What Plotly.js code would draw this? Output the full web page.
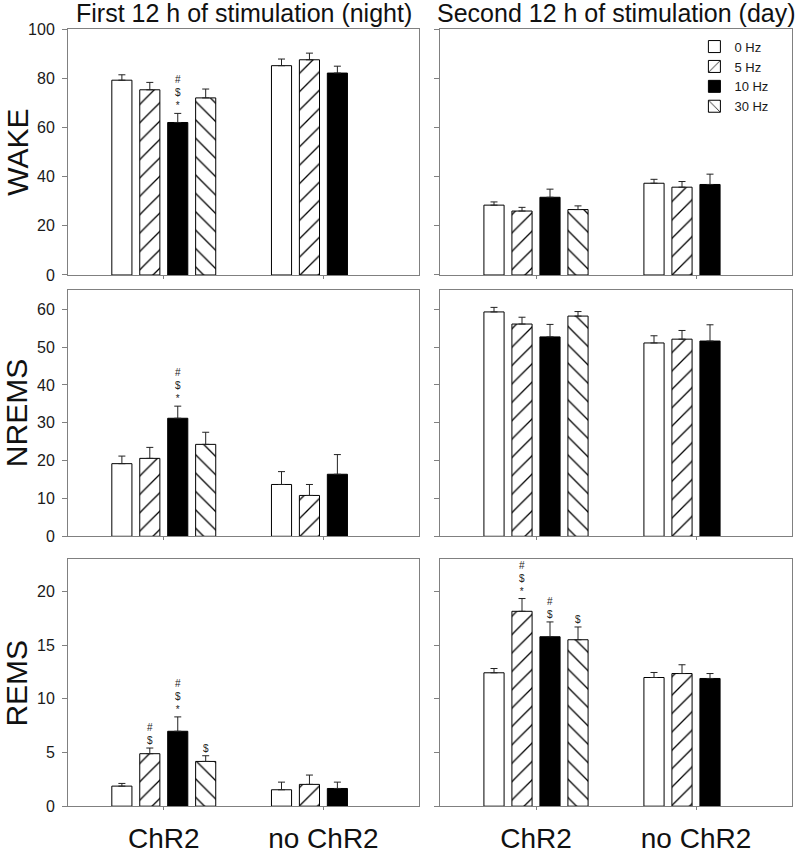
<!DOCTYPE html>
<html><head><meta charset="utf-8">
<script src="https://cdn.plot.ly/plotly-3.0.1.min.js"></script>
<style>html,body{margin:0;padding:0;background:#fff}#chart{width:800px;height:854px}</style>
</head><body><div id="chart"></div>
<script>
const categories = ['ChR2', 'no ChR2'];
const freqLabels = ['0 Hz', '5 Hz', '10 Hz', '30 Hz'];
const rowLabels = ['WAKE', 'NREMS', 'REMS'];
const columnTitles = ['First 12 h of stimulation (night)', 'Second 12 h of stimulation (day)'];

// each inner array: [ChR2, no ChR2]; one inner array per frequency (0, 5, 10, 30 Hz)
const wakeNight    = [[79.2, 85.1], [75.3, 87.5], [62.0, 82.1], [72.0, null]];
const wakeNightErr = [[2.2, 2.7], [3.0, 2.7], [3.7, 2.8], [3.6, null]];
const wakeDay      = [[28.4, 37.3], [26.0, 35.7], [31.6, 36.8], [26.6, null]];
const wakeDayErr   = [[1.3, 1.6], [1.5, 2.3], [3.3, 4.2], [1.5, null]];

const nremNight    = [[19.2, 13.7], [20.6, 10.8], [31.2, 16.4], [24.3, null]];
const nremNightErr = [[2.0, 3.4], [2.9, 2.9], [3.2, 5.2], [3.2, null]];
const nremDay      = [[59.3, 51.1], [56.1, 52.1], [52.7, 51.6], [58.2, null]];
const nremDayErr   = [[1.2, 1.9], [1.8, 2.3], [3.3, 4.3], [1.2, null]];

const remNight     = [[1.87, 1.53], [4.89, 2.03], [6.98, 1.65], [4.17, null]];
const remNightErr  = [[0.25, 0.71], [0.53, 0.87], [1.34, 0.59], [0.53, null]];
const remDay       = [[12.43, 11.99], [18.16, 12.36], [15.79, 11.90], [15.51, null]];
const remDayErr    = [[0.40, 0.47], [1.19, 0.82], [1.38, 0.46], [1.19, null]];

// significance marks above bars
const wakeNightSig = [['', ''], ['', ''], ['#<br>$<br>*', ''], ['', '']];
const wakeDaySig   = [['', ''], ['', ''], ['', ''], ['', '']];
const nremNightSig = [['', ''], ['', ''], ['#<br>$<br>*', ''], ['', '']];
const nremDaySig   = [['', ''], ['', ''], ['', ''], ['', '']];
const remNightSig  = [['', ''], ['#<br>$', ''], ['#<br>$<br>*', ''], ['$', '']];
const remDaySig    = [['', ''], ['#<br>$<br>*', ''], ['#<br>$', ''], ['$', '']];

const yRanges = [[0, 100], [0, 65], [0, 23]];
const yDtick = [20, 10, 5];

const panels = [
  {vals: wakeNight, err: wakeNightErr, sig: wakeNightSig, row: 0, col: 0},
  {vals: wakeDay,   err: wakeDayErr,   sig: wakeDaySig,   row: 0, col: 1},
  {vals: nremNight, err: nremNightErr, sig: nremNightSig, row: 1, col: 0},
  {vals: nremDay,   err: nremDayErr,   sig: nremDaySig,   row: 1, col: 1},
  {vals: remNight,  err: remNightErr,  sig: remNightSig,  row: 2, col: 0},
  {vals: remDay,    err: remDayErr,    sig: remDaySig,    row: 2, col: 1}
];

const FONT = 'Liberation Sans, Arial, Helvetica, sans-serif';
const AXC = '#808080';
const bargap = 0.3;
const nSeries = freqLabels.length;

const styles = [
  {color: '#ffffff', pattern: null},
  {color: '#ffffff', pattern: {shape: '/', size: 13, solidity: 0.1, fgcolor: '#000000', bgcolor: '#ffffff', fgopacity: 1}},
  {color: '#000000', pattern: null},
  {color: '#ffffff', pattern: {shape: '\\', size: 13, solidity: 0.1, fgcolor: '#000000', bgcolor: '#ffffff', fgopacity: 1}}
];

const xDomains = [[0.085, 0.524], [0.55, 0.99]];
const yDomains = [[0.678, 0.966], [0.372, 0.660], [0.056, 0.345]];

const traces = [];
const annotations = [];
const layout = {
  width: 800, height: 854,
  margin: {l: 0, r: 0, t: 0, b: 0},
  paper_bgcolor: '#ffffff', plot_bgcolor: '#ffffff',
  font: {family: FONT, color: '#1a1a1a'},
  barmode: 'group', bargap: bargap, bargroupgap: 0.28,
  showlegend: true,
  legend: {x: 0.868, y: 0.963, xanchor: 'left', yanchor: 'top', bgcolor: 'rgba(0,0,0,0)',
           font: {size: 13, family: FONT}, itemwidth: 30, tracegroupgap: 0},
  annotations: annotations
};

panels.forEach((p, k) => {
  const idx = k + 1;
  const xa = idx === 1 ? 'x' : 'x' + idx;
  const ya = idx === 1 ? 'y' : 'y' + idx;
  for (let i = 0; i < nSeries; i++) {
    const tr = {
      type: 'bar', name: freqLabels[i], x: [0, 1], y: p.vals[i],
      xaxis: xa, yaxis: ya, showlegend: k === 1, legendgroup: freqLabels[i],
      marker: {color: styles[i].color, line: {color: '#000000', width: 1}},
      error_y: {type: 'data', symmetric: false, array: p.err[i], arrayminus: [0, 0],
                color: '#222222', thickness: 1, width: 3.5},
      hoverinfo: 'y'
    };
    if (styles[i].pattern) tr.marker.pattern = styles[i].pattern;
    traces.push(tr);
    p.sig[i].forEach((s, c) => {
      if (!s) return;
      const slot = (1 - bargap) / nSeries;
      annotations.push({
        xref: xa, yref: ya, x: c + (i - (nSeries - 1) / 2) * slot,
        y: p.vals[i][c] + p.err[i][c], yanchor: 'bottom', yshift: 0,
        text: s, showarrow: false, font: {size: 10, family: FONT, color: '#222'}
      });
    });
  }
  const isBottom = p.row === 2;
  layout['xaxis' + (idx === 1 ? '' : idx)] = {
    domain: xDomains[p.col], anchor: ya, range: [-0.6, 1.6],
    tickvals: [0, 1], ticktext: categories, showticklabels: isBottom,
    tickfont: {size: 28, family: FONT, color: '#111'}, ticklabelstandoff: 4,
    ticks: 'outside', ticklen: 3, tickcolor: AXC,
    showline: true, linecolor: AXC, linewidth: 1, mirror: true,
    showgrid: false, zeroline: false, fixedrange: true
  };
  layout['yaxis' + (idx === 1 ? '' : idx)] = {
    domain: yDomains[p.row], anchor: xa, range: yRanges[p.row], dtick: yDtick[p.row], tick0: 0,
    showticklabels: p.col === 0, tickfont: {size: 16, family: FONT, color: '#1a1a1a'},
    ticks: 'outside', ticklen: 5, tickcolor: AXC, ticklabelstandoff: 4,
    showline: true, linecolor: AXC, linewidth: 1, mirror: true,
    showgrid: false, zeroline: false, fixedrange: true
  };
});

// row labels
rowLabels.forEach((t, r) => {
  annotations.push({xref: 'paper', yref: 'paper', x: 0.021, y: (yDomains[r][0] + yDomains[r][1]) / 2,
    xanchor: 'center', yanchor: 'middle', textangle: -90, text: t, showarrow: false,
    font: {size: 30, family: FONT, color: '#111'}});
});
// column titles
columnTitles.forEach((t, c) => {
  annotations.push({xref: 'paper', yref: 'paper', x: (xDomains[c][0] + xDomains[c][1]) / 2, y: 0.985,
    xanchor: 'center', yanchor: 'middle', text: t, showarrow: false,
    font: {size: 25, family: FONT, color: '#111'}});
});

Plotly.newPlot('chart', traces, layout, {staticPlot: true, displayModeBar: false});
</script></body></html>
